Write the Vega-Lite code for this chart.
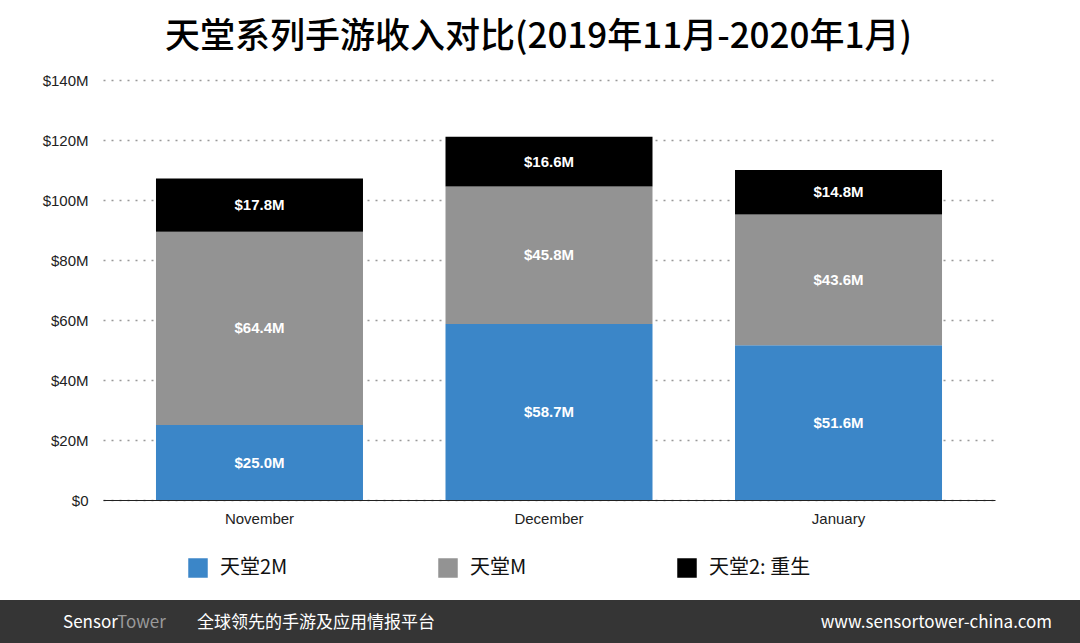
{
  "$schema": "https://vega.github.io/schema/vega-lite/v6.json",
  "background": "white",
  "padding": {"left": 0, "right": 0, "top": 20, "bottom": 0},
  "spacing": 74,
  "title": {"text": "天堂系列手游收入对比(2019年11月-2020年1月)", "fontSize": 35, "font": "Noto Sans CJK SC", "fontWeight": 500, "color": "#000", "anchor": "start", "dx": 165, "offset": 18},
  "config": {"font": "Liberation Sans", "view": {"stroke": null}},
  "vconcat": [
    {
      "width": 892,
      "height": 420,
      "data": {"values": [
        {"month": "November", "game": "天堂2M", "value": 25.0, "ord": 0},
        {"month": "November", "game": "天堂M", "value": 64.4, "ord": 1},
        {"month": "November", "game": "天堂2: 重生", "value": 17.8, "ord": 2},
        {"month": "December", "game": "天堂2M", "value": 58.7, "ord": 0},
        {"month": "December", "game": "天堂M", "value": 45.8, "ord": 1},
        {"month": "December", "game": "天堂2: 重生", "value": 16.6, "ord": 2},
        {"month": "January", "game": "天堂2M", "value": 51.6, "ord": 0},
        {"month": "January", "game": "天堂M", "value": 43.6, "ord": 1},
        {"month": "January", "game": "天堂2: 重生", "value": 14.8, "ord": 2}
      ]},
      "transform": [{"calculate": "'$' + format(datum.value, '.1f') + 'M'", "as": "label"}],
      "encoding": {
        "x": {"field": "month", "type": "nominal", "sort": ["November", "December", "January"],
          "scale": {"paddingInner": 0.285, "paddingOuter": 0.183},
          "axis": {"title": null, "labelAngle": 0, "labelFontSize": 15, "labelColor": "#222", "ticks": false, "domainColor": "#222", "labelPadding": 11}},
        "y": {"field": "value", "type": "quantitative", "stack": "zero", "scale": {"domain": [0, 140]},
          "axis": {"title": null, "values": [0, 20, 40, 60, 80, 100, 120, 140], "labelExpr": "datum.value == 0 ? '$0' : '$' + datum.value + 'M'", "labelFontSize": 15, "labelColor": "#222", "ticks": false, "domain": false, "gridDash": [2, 6], "gridColor": "#999", "gridWidth": 1.5, "labelPadding": 15, "minExtent": 103}},
        "order": {"field": "ord", "type": "quantitative"}
      },
      "layer": [
        {
          "mark": {"type": "bar"},
          "encoding": {
            "color": {"field": "game", "type": "nominal", "sort": ["天堂2M", "天堂M", "天堂2: 重生"],
              "scale": {"domain": ["天堂2M", "天堂M", "天堂2: 重生"], "range": ["#3b86c8", "#939393", "#000000"]},
              "legend": {"title": null, "orient": "none", "legendX": 85, "legendY": 478, "direction": "horizontal", "symbolType": "square", "symbolSize": 380, "symbolStrokeWidth": 0, "labelFontSize": 20, "labelFont": "Noto Sans CJK SC", "labelColor": "#111", "columnPadding": 150, "labelOffset": 12}}
          }
        },
        {
          "mark": {"type": "text", "color": "white", "fontWeight": "bold", "fontSize": 15},
          "encoding": {
            "y": {"field": "value", "type": "quantitative", "stack": "zero", "bandPosition": 0.5},
            "text": {"field": "label"}
          }
        }
      ]
    },
    {
      "width": 977,
      "height": 46,
      "view": {"fill": "#353535", "stroke": null},
      "data": {"values": [
        {"pos": -103, "end": 0, "label": "", "side": "fill", "c": "#353535"},
        {"pos": -40, "end": 0, "label": "Sensor", "side": "left", "c": "#ffffff"},
        {"pos": 14, "end": 0, "label": "Tower", "side": "left", "c": "#9a9a9a"},
        {"pos": 94, "end": 0, "label": "全球领先的手游及应用情报平台", "side": "left", "c": "#ffffff"},
        {"pos": 949, "end": 0, "label": "www.sensortower-china.com", "side": "right", "c": "#ffffff"}
      ]},
      "encoding": {
        "x": {"field": "pos", "type": "quantitative", "scale": {"domain": [0, 977], "clamp": false, "zero": false, "nice": false}, "axis": null}
      },
      "layer": [
        {
          "transform": [{"filter": "datum.side == 'fill'"}],
          "mark": {"type": "rect", "color": "#353535", "clip": false},
          "encoding": {"x2": {"field": "end"}}
        },
        {
          "transform": [{"filter": "datum.side == 'left'"}],
          "mark": {"type": "text", "fontSize": 17, "font": "Noto Sans CJK SC", "align": "left", "clip": false},
          "encoding": {
            "text": {"field": "label"},
            "color": {"field": "c", "type": "nominal", "scale": null}
          }
        },
        {
          "transform": [{"filter": "datum.side == 'right'"}],
          "mark": {"type": "text", "fontSize": 17, "font": "Noto Sans CJK SC", "align": "right", "color": "#ffffff", "clip": false},
          "encoding": {"text": {"field": "label"}}
        }
      ]
    }
  ]
}
